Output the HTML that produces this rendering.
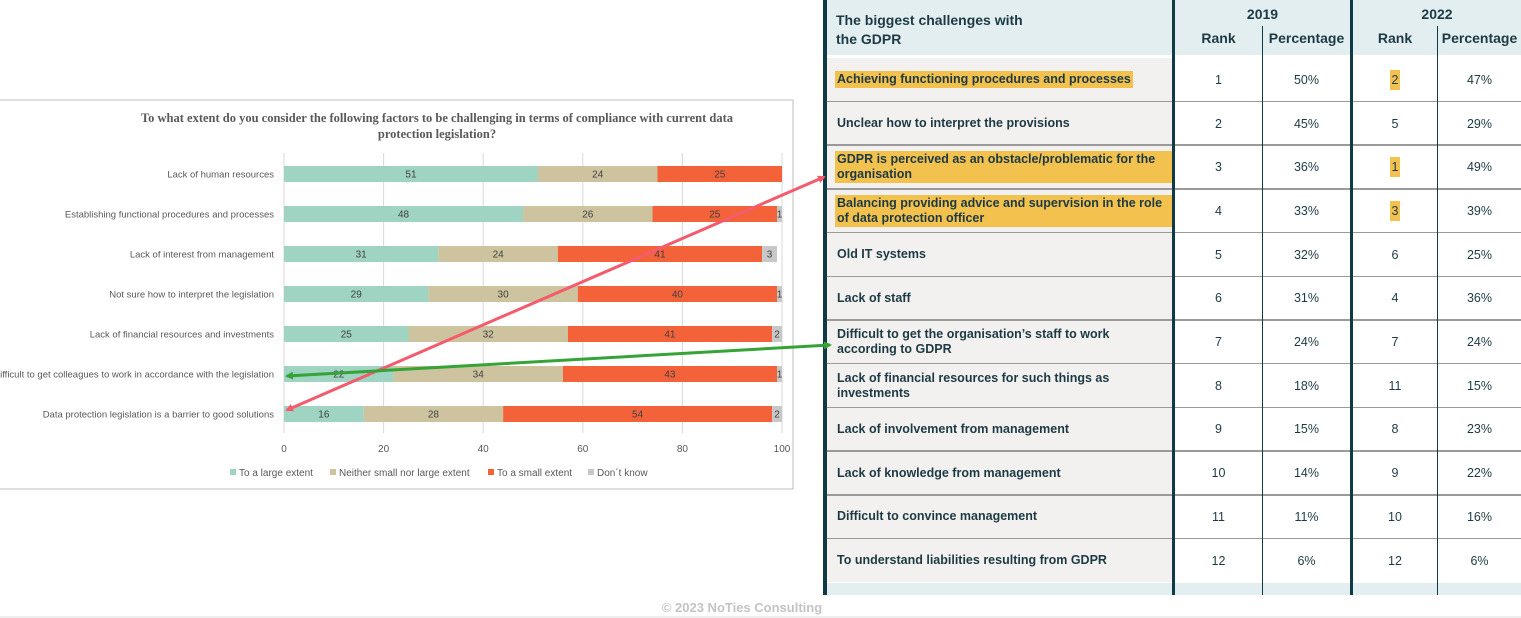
<!DOCTYPE html>
<html><head><meta charset="utf-8">
<style>
body{margin:0;width:1521px;height:618px;position:relative;overflow:hidden;background:#fff;font-family:"Liberation Sans",sans-serif}
.abs{position:absolute}
.cell{position:absolute;display:flex;align-items:center;font-size:12.5px;color:#1d3a44}
.lab{font-weight:bold;padding-left:8px;box-sizing:border-box;line-height:15px}
.num{justify-content:center}
.hl{background:#f2c14e}
</style></head><body>
<svg class="abs" style="left:0;top:0" width="800" height="500">
<rect x="-2" y="100" width="795" height="389" fill="#fff" stroke="#bdbdbd"/>
<text x="437" y="122" text-anchor="middle" font-family="Liberation Serif,serif" font-weight="bold" font-size="12.5" fill="#595959">To what extent do you consider the following factors to be challenging in terms of compliance with current data</text>
<text x="437" y="138" text-anchor="middle" font-family="Liberation Serif,serif" font-weight="bold" font-size="12.5" fill="#595959">protection legislation?</text>
<g id="plot"></g>
</svg>
<div id="tbl"></div>
<svg class="abs" style="left:0;top:0" width="1521" height="618">
<defs>
<marker id="ar" markerWidth="8" markerHeight="8" refX="6" refY="4" orient="auto-start-reverse" markerUnits="userSpaceOnUse"><path d="M0,0L8,4L0,8z" fill="#f45b6c"/></marker>
<marker id="ag" markerWidth="8" markerHeight="8" refX="6" refY="4" orient="auto-start-reverse" markerUnits="userSpaceOnUse"><path d="M0,0L8,4L0,8z" fill="#36a336"/></marker>
</defs>
<line x1="287" y1="410" x2="824" y2="177" stroke="#f45b6c" stroke-width="3" marker-start="url(#ar)" marker-end="url(#ar)"/>
<line x1="287" y1="376" x2="830" y2="345" stroke="#36a336" stroke-width="3" marker-start="url(#ag)" marker-end="url(#ag)"/>
<line x1="0" y1="617" x2="1521" y2="617" stroke="#ddd"/>
<text x="742" y="612" text-anchor="middle" font-family="Liberation Sans" font-weight="bold" font-size="13" fill="#c4c4c4">© 2023 NoTies Consulting</text>
</svg>
<script>
const categories=["Lack of human resources","Establishing functional procedures and processes","Lack of interest from management","Not sure how to interpret the legislation","Lack of financial resources and investments","Difficult to get colleagues to work in accordance with the legislation","Data protection legislation is a barrier to good solutions"];
const largeExtent=[51,48,31,29,25,22,16];
const neither=[24,26,24,30,32,34,28];
const smallExtent=[25,25,41,40,41,43,54];
const dontKnow=[0,1,3,1,2,1,2];
const ticks=[0,20,40,60,80,100];
const seriesNames=["To a large extent","Neither small nor large extent","To a small extent","Don´t know"];
const colors=["#9fd3c2","#cdc49f","#f4623a","#c8c8c8"];
const NS="http://www.w3.org/2000/svg";
const g=document.getElementById('plot');
const X=v=>284+v*4.98;
const Y=i=>174+i*40;
function mk(t,a){const e=document.createElementNS(NS,t);for(const k in a)e.setAttribute(k,a[k]);g.appendChild(e);return e;}
ticks.forEach(t=>{
 const l=mk('line',{x1:X(t),x2:X(t),y1:153,y2:433,stroke:'#d9d9d9'});
 
 
 const tx=mk('text',{x:X(t),y:452,'text-anchor':'middle','font-size':10,fill:'#595959','font-family':'Liberation Sans'});tx.textContent=t;
 
 
});
const series=[largeExtent,neither,smallExtent,dontKnow];
categories.forEach((c,i)=>{
 const lb=mk('text',{x:274,y:Y(i)+3.5,'text-anchor':'end','font-size':9.5,fill:'#595959','font-family':'Liberation Sans'});lb.textContent=c;
 
 
 let acc=0;
 series.forEach((s,k)=>{
  const v=s[i];if(!v)return;
  const r=mk('rect',{x:X(acc),y:Y(i)-8,width:X(acc+v)-X(acc),height:16,fill:colors[k]});
  
  
  const t=mk('text',{x:(X(acc)+X(acc+v))/2,y:Y(i)+3.5,'text-anchor':'middle','font-size':10,fill:'#404040','font-family':'Liberation Sans'});t.textContent=v;
  
  
  acc+=v;
 });
});
const lx=[230,330,488,588];
seriesNames.forEach((n,k)=>{
 const r=mk('rect',{x:lx[k],y:469,width:6,height:6,fill:colors[k]});
 
 
 const t=mk('text',{x:lx[k]+9,y:476,'font-size':10,fill:'#595959','font-family':'Liberation Sans'});t.textContent=n;
 
 
});

// table
const rows=[["Achieving functioning procedures and processes",1,"50%",2,"47%",1],
["Unclear how to interpret the provisions",2,"45%",5,"29%",0],
["GDPR is perceived as an obstacle/problematic for the organisation",3,"36%",1,"49%",1],
["Balancing providing advice and supervision in the role of data protection officer",4,"33%",3,"39%",1],
["Old IT systems",5,"32%",6,"25%",0],
["Lack of staff",6,"31%",4,"36%",0],
["Difficult to get the organisation’s staff to work according to GDPR",7,"24%",7,"24%",0],
["Lack of financial resources for such things as investments",8,"18%",11,"15%",0],
["Lack of involvement from management",9,"15%",8,"23%",0],
["Lack of knowledge from management",10,"14%",9,"22%",0],
["Difficult to convince management",11,"11%",10,"16%",0],
["To understand liabilities resulting from GDPR",12,"6%",12,"6%",0]];
const T=document.getElementById('tbl');
function div(css,html,name){const d=document.createElement('div');d.className='abs';d.style.cssText=css;if(html!=null)d.innerHTML=html;T.appendChild(d);
 
 return d;}
div('left:823px;top:0;width:698px;height:55px;background:#e3eef1',null,'table-header');
div('left:823px;top:583px;width:698px;height:12px;background:#e3eef1',null,'table-footer-band');
div('left:836px;top:11px;font-size:14px;font-weight:bold;color:#1d3a44;line-height:19px','The biggest challenges with<br>the GDPR','header-title');
div('left:1175px;top:6px;width:175px;text-align:center;font-size:14px;font-weight:bold;color:#1d3a44','2019','year-2019');
div('left:1353px;top:6px;width:168px;text-align:center;font-size:14px;font-weight:bold;color:#1d3a44','2022','year-2022');
[[1175,87,'Rank'],[1263,87,'Percentage'],[1353,84,'Rank'],[1438,83,'Percentage']].forEach(a=>div(`left:${a[0]}px;top:30px;width:${a[1]}px;text-align:center;font-size:14px;font-weight:bold;color:#1d3a44`,a[2],'column-header'));
const rh=43.7,r0=58;
rows.forEach((r,i)=>{
 const y=r0+i*rh;
 div(`left:827px;top:${y}px;width:345px;height:${rh}px;background:#f2f1ef`,null,'row-label-bg');
 const l=div(`left:827px;top:${y}px;width:345px;height:${rh}px`,`<span class="${r[5]?'hl':''}" style="padding:1px 2px">${r[0]}</span>`,'row-label');l.className='cell lab';
 l.style.position='absolute';
 [[1175,87,r[1],0],[1263,87,r[2],0],[1353,84,r[3],r[5]],[1438,83,r[4],0]].forEach(c=>{
  const d=div(`left:${c[0]}px;top:${y}px;width:${c[1]}px;height:${rh}px`,c[3]?`<span class="hl" style="padding:3px 2px">${c[2]}</span>`:String(c[2]),'table-cell');d.className='cell num';
 });
 if(i>0)div(`left:827px;top:${y-1}px;width:694px;height:1.5px;background:#9a9a9a`,null,'row-separator');
});
div('left:823px;top:0;width:4px;height:595px;background:#0f3a46',null,'table-left-border');
div('left:1172px;top:0;width:3px;height:595px;background:#0f3a46',null,'col-border');
div('left:1350px;top:0;width:3px;height:595px;background:#0f3a46',null,'col-border');
div('left:1262px;top:26px;width:1px;height:569px;background:#0f3a46',null,'col-border-thin');
div('left:1437px;top:26px;width:1px;height:569px;background:#0f3a46',null,'col-border-thin');
</script>
</body></html>
